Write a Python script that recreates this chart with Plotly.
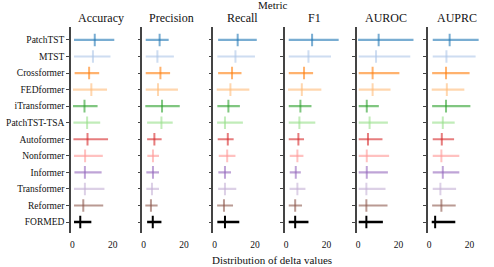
import plotly.graph_objects as go

models = ["PatchTST", "MTST", "Crossformer", "FEDformer", "iTransformer", "PatchTST-TSA",
          "Autoformer", "Nonformer", "Informer", "Transformer", "Reformer", "FORMED"]
metrics = ["Accuracy", "Precision", "Recall", "F1", "AUROC", "AUPRC"]

# mean, lower, upper of delta values per metric (same order as models)
acc_mean = [11.1, 10.2, 8.3, 9.4, 6.0, 7.3, 7.5, 6.3, 6.2, 6.2, 5.4, 3.9]
acc_lo   = [0.8, 0.8, 1.1, 0.3, 0.3, 0.5, 0.5, 0.8, 1.0, 0.8, 0.8, 0.8]
acc_hi   = [20.8, 18.9, 13.3, 17.2, 12.5, 13.8, 17.7, 15.1, 14.5, 15.9, 15.3, 9.4]

prec_mean = [7.9, 6.8, 8.3, 7.1, 9.1, 8.8, 5.3, 4.6, 4.6, 4.1, 3.6, 4.5]
prec_lo   = [1.0, 1.0, 1.0, 1.0, 0.8, 1.7, 1.7, 1.8, 1.3, 1.3, 0.8, 1.7]
prec_hi   = [12.4, 15.0, 13.1, 17.0, 17.9, 14.4, 8.9, 7.6, 7.6, 7.6, 6.9, 8.8]

rec_mean = [11.4, 10.3, 8.6, 7.8, 6.8, 5.1, 6.5, 6.2, 5.1, 5.1, 4.6, 5.1]
rec_lo   = [1.7, 1.3, 1.7, 1.0, 1.3, 1.2, 1.5, 2.0, 1.8, 1.7, 1.2, 1.3]
rec_hi   = [20.9, 20.0, 13.3, 17.2, 12.5, 14.0, 9.4, 10.3, 8.1, 10.7, 9.1, 12.2]

f1_mean = [12.9, 11.1, 8.9, 7.8, 7.1, 6.6, 6.1, 5.6, 4.8, 5.6, 4.5, 4.5]
f1_lo   = [1.3, 1.3, 1.3, 1.0, 1.3, 1.3, 1.3, 1.8, 1.8, 1.7, 1.3, 1.3]
f1_hi   = [26.1, 22.3, 13.4, 17.5, 12.6, 14.5, 8.9, 8.6, 7.3, 9.6, 7.9, 11.1]

auroc_mean = [10.2, 8.9, 7.2, 7.2, 4.3, 5.7, 4.9, 4.3, 4.3, 4.1, 4.1, 4.1]
auroc_lo   = [0.0, 0.3, 0.3, 0.3, 0.3, 0.3, 0.3, 0.3, 0.3, 0.3, 0.3, 0.3]
auroc_hi   = [27.5, 25.9, 20.5, 16.1, 10.3, 14.8, 12.1, 15.4, 14.8, 13.6, 14.6, 12.3]

auprc_mean = [10.2, 8.6, 8.4, 8.8, 8.4, 6.8, 6.3, 6.1, 6.8, 5.6, 6.1, 3.0]
auprc_lo   = [1.8, 1.8, 1.5, 1.3, 1.5, 1.5, 1.8, 1.8, 1.8, 1.8, 1.5, 1.3]
auprc_hi   = [24.6, 23.1, 20.1, 17.5, 20.5, 12.7, 12.4, 15.0, 15.0, 13.4, 13.2, 13.0]

x_ticks = [0, 20]

data = [
    (acc_mean, acc_lo, acc_hi),
    (prec_mean, prec_lo, prec_hi),
    (rec_mean, rec_lo, rec_hi),
    (f1_mean, f1_lo, f1_hi),
    (auroc_mean, auroc_lo, auroc_hi),
    (auprc_mean, auprc_lo, auprc_hi),
]

base_colors = [(31, 119, 180), (174, 199, 232), (255, 127, 14), (255, 187, 120),
               (44, 160, 44), (152, 223, 138), (214, 39, 40), (255, 152, 150),
               (148, 103, 189), (197, 176, 213), (140, 86, 75), (0, 0, 0)]

W, H = 494, 267
FONT = "Liberation Serif"

fig = go.Figure()

panel_left = [71, 142.3, 213.3, 284.7, 356.7, 427.7]
panel_w = 59
y_top, y_bot = 26.7, 233.3

for p, (mean, lo, hi) in enumerate(data):
    xa = "x" if p == 0 else f"x{p+1}"
    ya = "y" if p == 0 else f"y{p+1}"
    for i, m in enumerate(models):
        r, g, b = base_colors[i]
        if m == "FORMED":
            col = "rgba(0,0,0,1)"
            th = 2.6
        else:
            col = f"rgba({r},{g},{b},0.6)"
            th = 2.2
        fig.add_trace(go.Scatter(
            x=[mean[i]], y=[m], mode="markers", xaxis=xa, yaxis=ya,
            showlegend=False,
            marker=dict(symbol="line-ns", size=9, color=col, line=dict(width=2, color=col)),
            error_x=dict(type="data", symmetric=False,
                         array=[hi[i] - mean[i]], arrayminus=[mean[i] - lo[i]],
                         thickness=th, width=0, color=col),
        ))

layout = dict(
    width=W, height=H, margin=dict(l=0, r=0, t=0, b=0, autoexpand=False),
    plot_bgcolor="white", paper_bgcolor="white",
    font=dict(family=FONT, size=10, color="#111"),
)
annotations = []
for p in range(6):
    sx = "" if p == 0 else str(p + 1)
    x0 = panel_left[p] / W
    x1 = (panel_left[p] + panel_w) / W
    layout[f"xaxis{sx}"] = dict(
        domain=[x0, x1], anchor=f"y{sx}", range=[-0.7, 28.6], automargin=False,
        tickvals=x_ticks, showgrid=False, zeroline=False, showline=False,
        ticks="", tickfont=dict(family=FONT, size=9.5, color="#111"),
        ticklabelstandoff=4,
    )
    layout[f"yaxis{sx}"] = dict(
        domain=[1 - y_bot / H, 1 - y_top / H], anchor=f"x{sx}", automargin=False,
        type="category", categoryorder="array", categoryarray=models,
        range=[11.68, -0.8], showgrid=False, zeroline=False,
        showline=True, linecolor="#444", linewidth=1.5,
        ticks="outside", ticklen=3, tickcolor="#444", tickwidth=1,
        showticklabels=(p == 0),
        tickfont=dict(family=FONT, size=9.5, color="#111"),
    )
    annotations.append(dict(
        text=metrics[p], x=(x0 + x1) / 2, y=1 - 18 / H, xref="paper", yref="paper",
        showarrow=False, font=dict(family=FONT, size=12, color="#111"),
        xanchor="center", yanchor="middle",
    ))
annotations.append(dict(text="Metric", x=272 / W, y=1 - 5 / H, xref="paper", yref="paper",
                        showarrow=False, font=dict(family=FONT, size=11, color="#111"),
                        xanchor="center", yanchor="middle"))
annotations.append(dict(text="Distribution of delta values", x=272 / W, y=1 - 260 / H,
                        xref="paper", yref="paper", showarrow=False,
                        font=dict(family=FONT, size=11, color="#111"),
                        xanchor="center", yanchor="middle"))
layout["annotations"] = annotations
fig.update_layout(**layout)
fig.write_html("out.html", config={"displayModeBar": False},
               post_script="document.body.style.margin='0';document.body.style.overflow='hidden';")
